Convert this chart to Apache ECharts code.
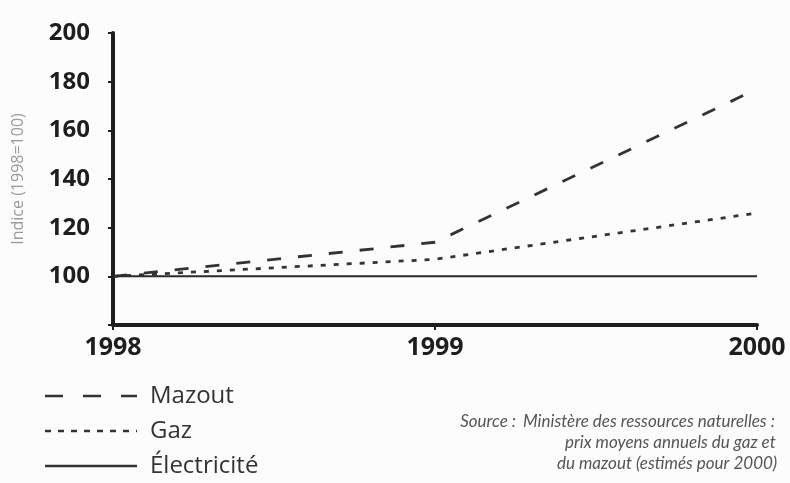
<!DOCTYPE html>
<html><head><meta charset="utf-8">
<script src="https://cdn.jsdelivr.net/npm/echarts@6/dist/echarts.min.js"></script>
<style>html,body{margin:0;padding:0;background:#fff}#c{width:790px;height:483px}</style>
</head><body><div id="c"></div>
<script>
var years = ['1998', '1999', '2000'];
var mazout = [100, 114, 177];
var gaz = [100, 107, 126];
var electricite = [100, 100, 100];
var yTicks = [80, 100, 120, 140, 160, 180, 200];
var seriesNames = ['Mazout', 'Gaz', 'Électricité'];
var sourceLines = ['Ministère des ressources naturelles :', 'prix moyens annuels du gaz et', 'du mazout (estimés pour 2000)'];

var chart = echarts.init(document.getElementById('c'));
var ink = '#1e1e1e';
var lineInk = '#333';
var dashMazout = [14, 17];
var dashGaz = [5, 8];
var legendDashMazout = [18, 20];
var legendDashGaz = [6, 7];

function legendItem(i, dash, y) {
  return [
    { type: 'line', shape: { x1: 45, y1: y, x2: 137, y2: y },
      style: { stroke: lineInk, lineWidth: 2.5, lineDash: dash } },
    { type: 'text', x: 150, y: y, style: { text: seriesNames[i], fill: '#333',
      font: '24px "Open Sans"', textVerticalAlign: 'middle' } }
  ];
}

chart.setOption({
  backgroundColor: '#fcfcfc',
  animation: false,
  grid: { left: 113, right: 33, top: 33, bottom: 158 },
  xAxis: {
    type: 'category', data: years, boundaryGap: false,
    axisLine: { lineStyle: { color: ink, width: 4 } },
    axisTick: { show: true, length: 5, lineStyle: { color: ink, width: 2 } },
    axisLabel: { color: ink, fontFamily: 'Open Sans', fontWeight: 'bold', fontSize: 25, margin: 10 },
    splitLine: { show: false }
  },
  yAxis: {
    type: 'value', min: yTicks[0], max: yTicks[yTicks.length - 1], interval: 20,
    name: 'Indice (1998=100)', nameLocation: 'middle', nameGap: 87,
    nameTextStyle: { color: '#999', fontSize: 16, fontFamily: 'Open Sans' },
    axisLine: { show: true, lineStyle: { color: ink, width: 4 } },
    axisTick: { show: true, length: 5, lineStyle: { color: ink, width: 2 } },
    axisLabel: { color: ink, fontFamily: 'Open Sans', fontWeight: 'bold', fontSize: 24, margin: 23,
      formatter: function (v) { return v === yTicks[0] ? '' : String(v); } },
    splitLine: { show: false }
  },
  series: [
    { name: seriesNames[0], type: 'line', data: mazout, showSymbol: false, symbol: 'none',
      lineStyle: { color: lineInk, width: 2.8, type: dashMazout } },
    { name: seriesNames[1], type: 'line', data: gaz, showSymbol: false, symbol: 'none',
      lineStyle: { color: lineInk, width: 2.8, type: dashGaz } },
    { name: seriesNames[2], type: 'line', data: electricite, showSymbol: false, symbol: 'none',
      lineStyle: { color: '#2a2a2a', width: 2, type: 'solid' } }
  ],
  graphic: [].concat(
    legendItem(0, legendDashMazout, 396),
    legendItem(1, legendDashGaz, 431),
    legendItem(2, null, 466),
    [
      { type: 'text', x: 516, y: 422, style: { text: 'Source :', fill: '#555', font: 'italic 17px Lato', textAlign: 'right', textVerticalAlign: 'middle' } },
      { type: 'text', x: 523, y: 422, style: { text: sourceLines[0], fill: '#555', font: 'italic 17px Lato', textVerticalAlign: 'middle' } },
      { type: 'text', x: 565, y: 443, style: { text: sourceLines[1], fill: '#555', font: 'italic 17px Lato', textVerticalAlign: 'middle' } },
      { type: 'text', x: 557, y: 464, style: { text: sourceLines[2], fill: '#555', font: 'italic 17px Lato', textVerticalAlign: 'middle' } }
    ]
  )
});
</script></body></html>
